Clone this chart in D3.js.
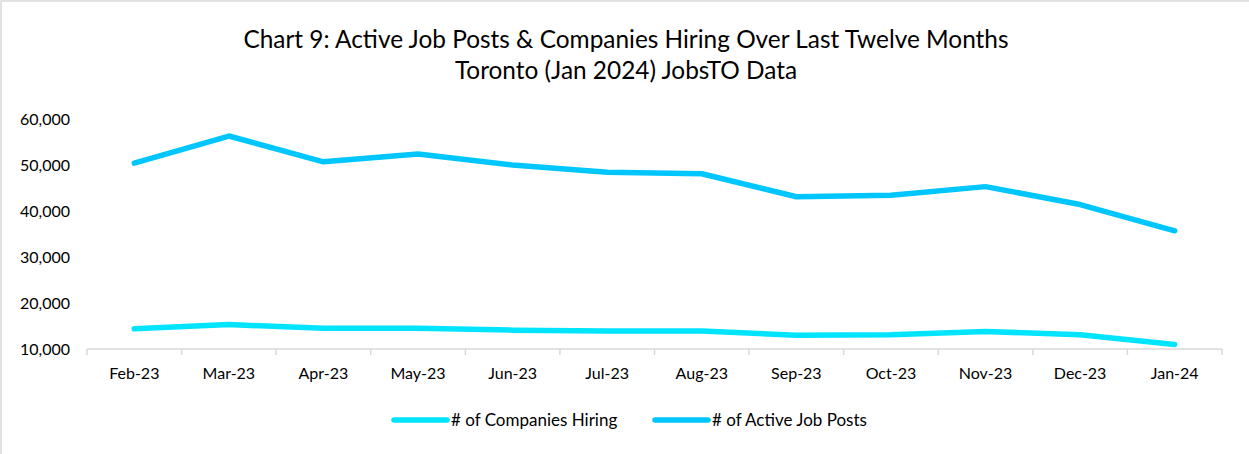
<!DOCTYPE html>
<html>
<head>
<meta charset="utf-8">
<script src="https://cdnjs.cloudflare.com/ajax/libs/d3/7.8.5/d3.min.js"></script>
<style>
  body { margin: 0; background: #fff; }
  svg { display: block; font-family: Lato, "Open Sans", sans-serif; }
</style>
</head>
<body>
<div id="chart"></div>
<script>
'use strict';

var months = ['Feb-23', 'Mar-23', 'Apr-23', 'May-23', 'Jun-23', 'Jul-23',
              'Aug-23', 'Sep-23', 'Oct-23', 'Nov-23', 'Dec-23', 'Jan-24'];
var companiesHiring = [14400, 15300, 14500, 14500, 14100, 13900,
                       13900, 13000, 13100, 13800, 13100, 11000];
var activeJobPosts = [50400, 56300, 50700, 52400, 50000, 48400,
                      48100, 43100, 43400, 45300, 41400, 35700];
var yTicks = [10000, 20000, 30000, 40000, 50000, 60000];
var titleLines = ['Chart 9: Active Job Posts & Companies Hiring Over Last Twelve Months',
                  'Toronto (Jan 2024) JobsTO Data'];

var series = [
    {name: '# of Companies Hiring', values: companiesHiring, color: '#00E4FF'},
    {name: '# of Active Job Posts', values: activeJobPosts, color: '#00C6FF'}
];

var width = 1249;
var height = 454;
var margin = {top: 119, left: 87, right: 27, bottom: 105};

var svg = d3.select('#chart').append('svg')
    .attr('width', width)
    .attr('height', height);

// outer chart frame
svg.append('rect')
    .attr('x', 1).attr('y', 1)
    .attr('width', width + 10).attr('height', height + 10)
    .attr('fill', 'none')
    .attr('stroke', '#d9d9d9')
    .attr('stroke-width', 1.5);

svg.append('g').selectAll('text')
    .data(titleLines)
    .enter()
    .append('text')
        .attr('x', 626)
        .attr('y', function(d, i) { return 48 + i * 31; })
        .attr('text-anchor', 'middle')
        .attr('font-size', 24.4)
        .attr('fill', '#000')
        .text(function(d) { return d; });

var x = d3.scaleBand()
    .domain(months)
    .range([margin.left, width - margin.right]);

var y = d3.scaleLinear()
    .domain([10000, 60000])
    .range([height - margin.bottom, margin.top]);

// x axis with ticks at category boundaries
var xAxisG = svg.append('g')
    .attr('transform', 'translate(0,' + y(10000) + ')');

xAxisG.append('line')
    .attr('x1', x.range()[0]).attr('x2', x.range()[1])
    .attr('stroke', '#d9d9d9').attr('stroke-width', 1.5);

var bounds = months.map(function(m) { return x(m); }).concat([x.range()[1]]);
xAxisG.selectAll('line.tick')
    .data(bounds)
    .enter()
    .append('line')
        .attr('class', 'tick')
        .attr('x1', function(d) { return d; })
        .attr('x2', function(d) { return d; })
        .attr('y1', 0).attr('y2', 6)
        .attr('stroke', '#d9d9d9').attr('stroke-width', 1.5);

xAxisG.selectAll('text')
    .data(months)
    .enter()
    .append('text')
        .attr('x', function(d) { return x(d) + x.bandwidth() / 2; })
        .attr('y', 30)
        .attr('text-anchor', 'middle')
        .attr('font-size', 16)
        .attr('fill', '#000')
        .text(function(d) { return d; });

// y axis labels only
var yAxis = d3.axisLeft(y)
    .tickValues(yTicks)
    .tickFormat(d3.format(','))
    .tickSize(0)
    .tickPadding(17);

var yAxisG = svg.append('g')
    .attr('transform', 'translate(' + margin.left + ',0)')
    .call(yAxis);
yAxisG.select('.domain').remove();
yAxisG.selectAll('text')
    .attr('font-size', 16)
    .attr('font-family', 'Lato, "Open Sans", sans-serif')
    .attr('fill', '#000');

var line = d3.line()
    .x(function(d, i) { return x(months[i]) + x.bandwidth() / 2; })
    .y(function(d) { return y(d); });

svg.append('g').selectAll('path')
    .data(series)
    .enter()
    .append('path')
        .attr('d', function(d) { return line(d.values); })
        .attr('fill', 'none')
        .attr('stroke', function(d) { return d.color; })
        .attr('stroke-width', 5.5)
        .attr('stroke-linecap', 'round')
        .attr('stroke-linejoin', 'round');

// legend
var legendX = [392, 653];
var legend = svg.append('g').selectAll('g')
    .data(series)
    .enter()
    .append('g')
        .attr('transform', function(d, i) { return 'translate(' + legendX[i] + ',420)'; });

legend.append('line')
    .attr('x1', 2).attr('x2', 55)
    .attr('stroke', function(d) { return d.color; })
    .attr('stroke-width', 5.5)
    .attr('stroke-linecap', 'round');

legend.append('text')
    .attr('x', 59)
    .attr('y', 6)
    .attr('font-size', 17)
    .attr('fill', '#000')
    .text(function(d) { return d.name; });
</script>
</body>
</html>
